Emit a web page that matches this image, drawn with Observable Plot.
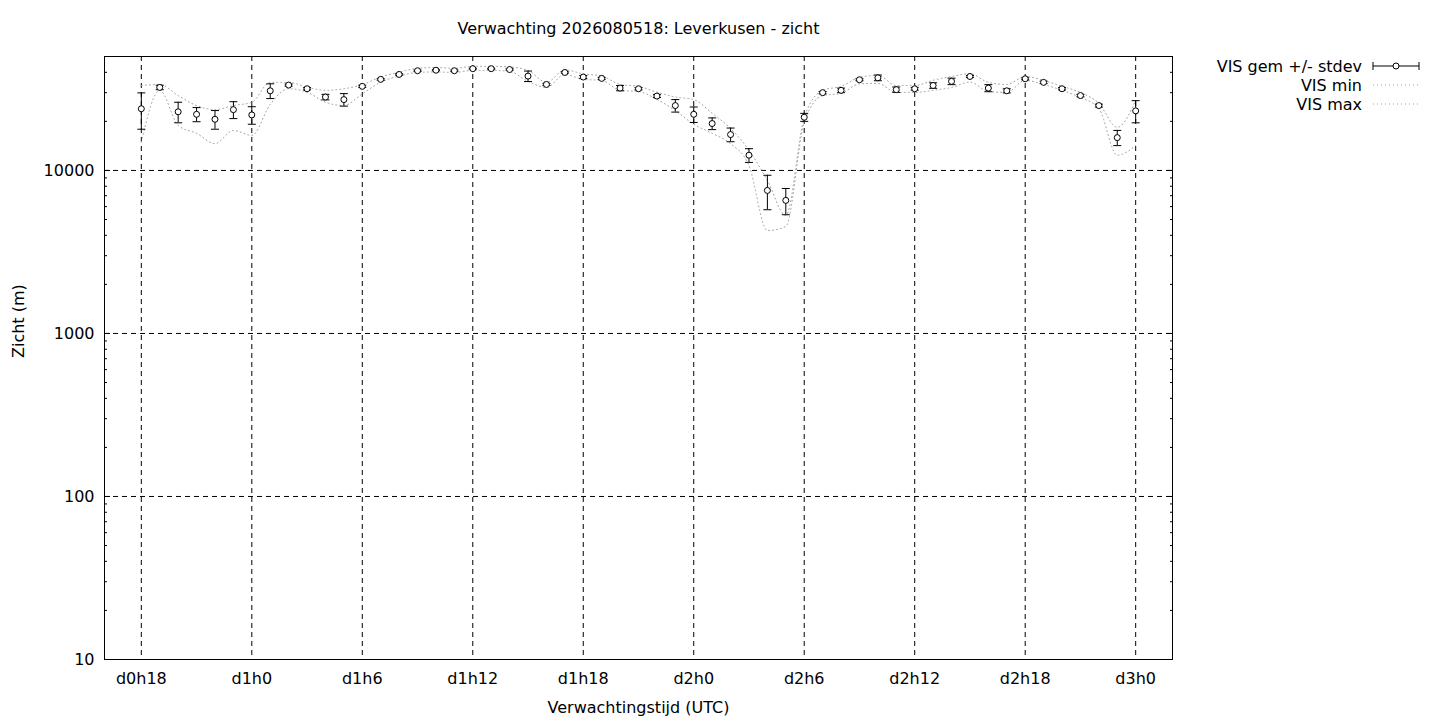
<!DOCTYPE html>
<html>
<head>
<meta charset="utf-8">
<script src="https://cdn.jsdelivr.net/npm/d3@7"></script>
<script src="https://cdn.jsdelivr.net/npm/@observablehq/plot@0.6"></script>
<style>
  html, body { margin: 0; padding: 0; background: #fff; }
  #chart { width: 1440px; height: 720px; }
  svg { font-family: "DejaVu Sans", sans-serif; }
</style>
</head>
<body>
<div id="chart"></div>
<script>
const titleText = "Verwachting 2026080518: Leverkusen - zicht";
const xLabel = "Verwachtingstijd (UTC)";
const yLabel = "Zicht (m)";

// forecast hour (from d0h0)
const hours = [18,19,20,21,22,23,24,25,26,27,28,29,30,31,32,33,34,35,36,37,38,39,40,41,42,43,44,45,
  46,47,48,49,50,51,52,53,54,55,56,57,58,59,60,61,62,63,64,65,66,67,68,69,70,71,72];

const visMean = [23900,32300,22900,22100,20600,23600,21900,30800,33400,31700,28200,27200,32800,36200,
  38800,40900,41200,40900,42100,42100,41600,37900,33700,39900,37400,36700,32000,31700,28600,25000,
  22100,19400,16600,12400,7540,6550,21200,30000,31000,36000,37000,31300,31700,33200,35200,37700,
  32000,30800,36500,34700,31700,28800,25000,15900,23200];

const visStdev = [6000,1000,3300,2200,2700,2800,2700,3200,500,500,1100,2400,500,400,400,400,300,400,
  300,300,400,2800,500,400,800,500,1200,500,600,2200,2400,1600,1600,1200,1800,1200,1200,500,1000,
  500,1500,1200,600,1300,1600,500,1600,900,500,600,500,500,500,1700,3600];

const visMin = [14900,31000,18900,16900,14600,17600,16400,25400,31700,30200,26200,25000,29500,34800,
  37900,39900,40200,39900,41100,41100,40500,35200,32300,38800,36200,35700,31000,30500,27300,23300,
  19200,16900,14600,10700,4280,4530,19700,28800,29700,34000,34200,30100,30100,31000,32300,34800,
  30500,30100,35700,33700,31000,28000,24000,12400,14200];

const visMax = [33200,33700,28800,25000,23600,25000,26200,34700,34700,32400,31000,31700,33600,37400,
  40100,42300,42800,42300,43500,43500,43100,41100,34700,41400,39100,38000,33700,32800,30200,28200,
  27200,22400,18100,13300,8680,5300,21100,31000,32800,37200,38300,33200,33200,35700,37700,39200,
  34700,33700,37700,35700,32800,30100,25800,18400,26900];

const xTickHours = [18,24,30,36,42,48,54,60,66,72];
const xTickLabels = ["d0h18","d1h0","d1h6","d1h12","d1h18","d2h0","d2h6","d2h12","d2h18","d3h0"];
const yMajorTicks = [10,100,1000,10000];
const yTickLabels = ["10","100","1000","10000"];
const yMinorTicks = [20,30,40,50,60,70,80,90,200,300,400,500,600,700,800,900,
  2000,3000,4000,5000,6000,7000,8000,9000,20000,30000,40000];

const rows = hours.map((h, i) => ({
  h, mean: visMean[i], lo: visMean[i] - visStdev[i], hi: visMean[i] + visStdev[i],
  min: visMin[i], max: visMax[i]
}));

const FS = 16;
const cap = { draw(context) { context.moveTo(-4, 0); context.lineTo(4, 0); } };
const dotted = { stroke: "#a0a0a0", strokeWidth: 1, strokeDasharray: "1,3", curve: "monotone-x" };
const grid = { stroke: "black", strokeWidth: 1, strokeDasharray: "5,4" };

const chart = Plot.plot({
  width: 1440,
  height: 720,
  marginLeft: 104,
  marginRight: 268,
  marginTop: 56,
  marginBottom: 61,
  style: { fontFamily: "DejaVu Sans, sans-serif", fontSize: FS + "px", color: "black", background: "white" },
  x: { domain: [16, 74] },
  y: { type: "log", domain: [10, 50000] },
  marks: [
    Plot.ruleY(yMajorTicks.slice(1), grid),
    Plot.ruleX(xTickHours, grid),
    Plot.axisY(yMinorTicks, { anchor: "left", tickSize: -3, tickFormat: () => "", label: null }),
    Plot.axisY(yMinorTicks, { anchor: "right", tickSize: -3, tickFormat: () => "", label: null }),
    Plot.axisY(yMajorTicks, { anchor: "right", tickSize: -6, tickFormat: () => "", label: null }),
    Plot.axisY(yMajorTicks, { anchor: "left", tickSize: -6, tickPadding: 16,
      tickFormat: (d) => yTickLabels[yMajorTicks.indexOf(d)], label: null, fontSize: FS }),
    Plot.axisX(xTickHours, { anchor: "bottom", tickSize: 0, tickPadding: 13,
      tickFormat: (d) => xTickLabels[xTickHours.indexOf(d)], label: null, fontSize: FS }),
    Plot.line(rows, { x: "h", y: "min", ...dotted }),
    Plot.line(rows, { x: "h", y: "max", ...dotted }),
    Plot.ruleX(rows, { x: "h", y1: "lo", y2: "hi", stroke: "black", strokeWidth: 1 }),
    Plot.dot(rows, { x: "h", y: "lo", symbol: cap, stroke: "black", fill: "none", strokeWidth: 1 }),
    Plot.dot(rows, { x: "h", y: "hi", symbol: cap, stroke: "black", fill: "none", strokeWidth: 1 }),
    Plot.dot(rows, { x: "h", y: "mean", r: 3, stroke: "black", fill: "white", strokeWidth: 1 }),
    Plot.frame({ stroke: "black", strokeWidth: 1 }),
    Plot.text([titleText], { text: (d) => d, frameAnchor: "top", lineAnchor: "middle", dy: -28, fontSize: FS, fill: "black" }),
    Plot.text([xLabel], { text: (d) => d, frameAnchor: "bottom", lineAnchor: "middle", dy: 48, fontSize: FS, fill: "black" }),
    Plot.text([yLabel], { text: (d) => d, frameAnchor: "left", lineAnchor: "middle", dx: -86, rotate: -90, fontSize: FS, fill: "black" })
  ]
});

document.getElementById("chart").appendChild(chart);

// legend (right margin)
const svg = d3.select(chart);
const lg = svg.append("g").attr("font-family", "DejaVu Sans, sans-serif").attr("font-size", FS);
const legendItems = ["VIS gem +/- stdev", "VIS min", "VIS max"];
const legendY = [66, 85, 104];
legendItems.forEach((label, i) => {
  lg.append("text").attr("x", 1362).attr("y", legendY[i]).attr("dy", "0.35em")
    .attr("text-anchor", "end").attr("fill", "black").text(label);
});
lg.append("line").attr("x1", 1373).attr("x2", 1419).attr("y1", 66).attr("y2", 66).attr("stroke", "black");
lg.append("line").attr("x1", 1373).attr("x2", 1373).attr("y1", 62).attr("y2", 70).attr("stroke", "black");
lg.append("line").attr("x1", 1419).attr("x2", 1419).attr("y1", 62).attr("y2", 70).attr("stroke", "black");
lg.append("circle").attr("cx", 1396).attr("cy", 66).attr("r", 3).attr("fill", "white").attr("stroke", "black");
[85, 104].forEach((y) => {
  lg.append("line").attr("x1", 1373).attr("x2", 1419).attr("y1", y).attr("y2", y)
    .attr("stroke", "#a0a0a0").attr("stroke-dasharray", "1,3");
});
</script>
</body>
</html>
